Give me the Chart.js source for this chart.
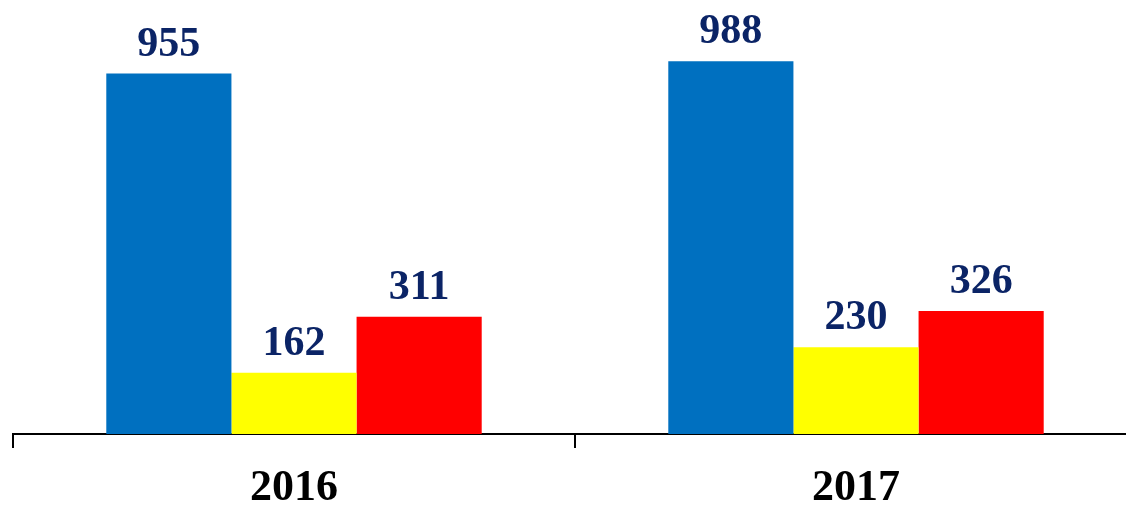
<!DOCTYPE html>
<html>
<head>
<meta charset="utf-8">
<script src="https://cdn.jsdelivr.net/npm/chart.js@4"></script>
<style>
  html, body { margin: 0; padding: 0; background: #fff; overflow: hidden; }
</style>
</head>
<body>
<canvas id="myBarChart" width="1148" height="510"></canvas>
<script>
const years = ['2016', '2017'];
const blueValues = [955, 988];
const yellowValues = [162, 230];
const redValues = [311, 326];

// value labels above every bar
const valueLabels = {
  id: 'valueLabels',
  afterDatasetsDraw(chart) {
    const ctx = chart.ctx;
    ctx.save();
    ctx.font = 'bold 42px "Liberation Serif", "Times New Roman", serif';
    ctx.fillStyle = '#0B2466';
    ctx.textAlign = 'center';
    ctx.textBaseline = 'alphabetic';
    chart.data.datasets.forEach((ds, i) => {
      chart.getDatasetMeta(i).data.forEach((bar, j) => {
        ctx.fillText(ds.data[j], bar.x, bar.y - 18);
      });
    });
    ctx.restore();
  }
};

new Chart("myBarChart", {
  type: "bar",
  data: {
    labels: years,
    datasets: [
      { data: blueValues, backgroundColor: '#0070C0' },
      { data: yellowValues, backgroundColor: '#FFFF00' },
      { data: redValues, backgroundColor: '#FF0000' }
    ]
  },
  options: {
    responsive: false,
    animation: false,
    categoryPercentage: 0.668,
    barPercentage: 1,
    layout: { padding: { left: 13, right: 11, top: 0, bottom: 0 } },
    plugins: {
      legend: { display: false },
      tooltip: { enabled: false }
    },
    scales: {
      y: { display: false, min: 0, max: 1150 },
      x: {
        afterFit: function(scale) { scale.height = 76; },
        border: { display: true, color: '#000', width: 2 },
        grid: {
          offset: true,
          drawOnChartArea: false,
          drawTicks: true,
          tickLength: 14,
          color: '#000',
          lineWidth: 2
        },
        ticks: {
          color: '#000',
          padding: 14,
          font: { family: '"Liberation Serif", "Times New Roman", serif', size: 44, weight: 'bold' }
        }
      }
    }
  },
  plugins: [valueLabels]
});
</script>
</body>
</html>
